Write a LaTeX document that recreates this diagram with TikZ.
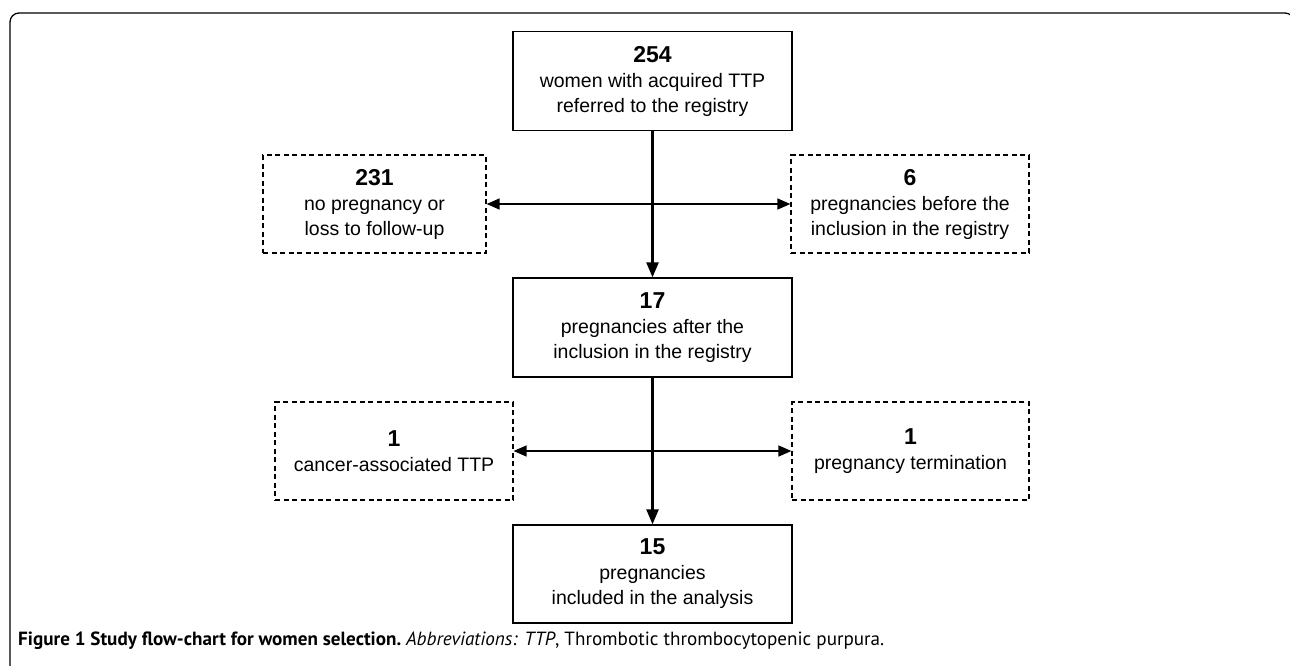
\documentclass[tikz,border=0pt]{standalone}
\usepackage{fontspec}
\setmainfont{Liberation Sans}
\newfontfamily\capfont{PT Sans}
\usetikzlibrary{positioning,arrows.meta}

\newcommand{\bignum}[1]{{\fontsize{23}{25}\selectfont\bfseries #1}}

\begin{document}
\begin{tikzpicture}[x=1pt,y=-1pt,
		mainbox/.style={draw,line width=1.3pt,minimum width=279pt,minimum height=99pt,inner sep=0pt,align=center,font=\fontsize{19.5}{25}\selectfont},
		sidebox/.style={draw,line width=1.2pt,dash pattern=on 5pt off 3.5pt,minimum height=98pt,inner sep=0pt,align=center,font=\fontsize{19.5}{25}\selectfont},
		flow/.style={line width=2.4pt,-{Triangle[length=15pt,width=12pt]}},
		split/.style={line width=1.4pt,{Triangle[length=13pt,width=11pt]}-{Triangle[length=13pt,width=11pt]}}]
			\useasboundingbox (0,0) rectangle (1290,665);
			% outer frame, open at the bottom
			\draw[line width=1.3pt,rounded corners=9pt] (10,680) -- (10,13) -- (1294,13) -- (1294,680);

			\node[mainbox] (referred) at (652.5,81) {\bignum{254}\\women with acquired TTP\\referred to the registry};
			\node[mainbox] (after) at (652.5,327.5) {\bignum{17}\\pregnancies after the\\inclusion in the registry};
			\node[mainbox,minimum height=98pt] (analysed) at (652.5,574) {\bignum{15}\\pregnancies\\included in the analysis};

			\node[sidebox,minimum width=223pt] (nopreg) at (374.5,204) {\bignum{231}\\no pregnancy or\\loss to follow-up};
			\node[sidebox,minimum width=238pt] (before) at (910,204) {\bignum{6}\\pregnancies before the\\inclusion in the registry};
			\node[sidebox,minimum width=238pt] (cancer) at (394,451) {\bignum{1}\\cancer-associated TTP};
			\node[sidebox,minimum width=237pt] (termin) at (910.5,451) {\bignum{1}\\pregnancy termination};

			\draw[flow] (referred) -- (after);
			\draw[flow] (after) -- (analysed);
			\draw[split] (nopreg.east) -- (before.west);
			\draw[split] (cancer.east) -- (termin.west);

			\node[anchor=base west,inner sep=0pt,font=\capfont\fontsize{19.1}{20}\selectfont] (caption) at (18,645)
				{\bfseries Figure 1 Study flow-chart for women selection.\ \mdseries\itshape Abbreviations: TTP\upshape, Thrombotic thrombocytopenic purpura.};
		\end{tikzpicture}
\end{document}
